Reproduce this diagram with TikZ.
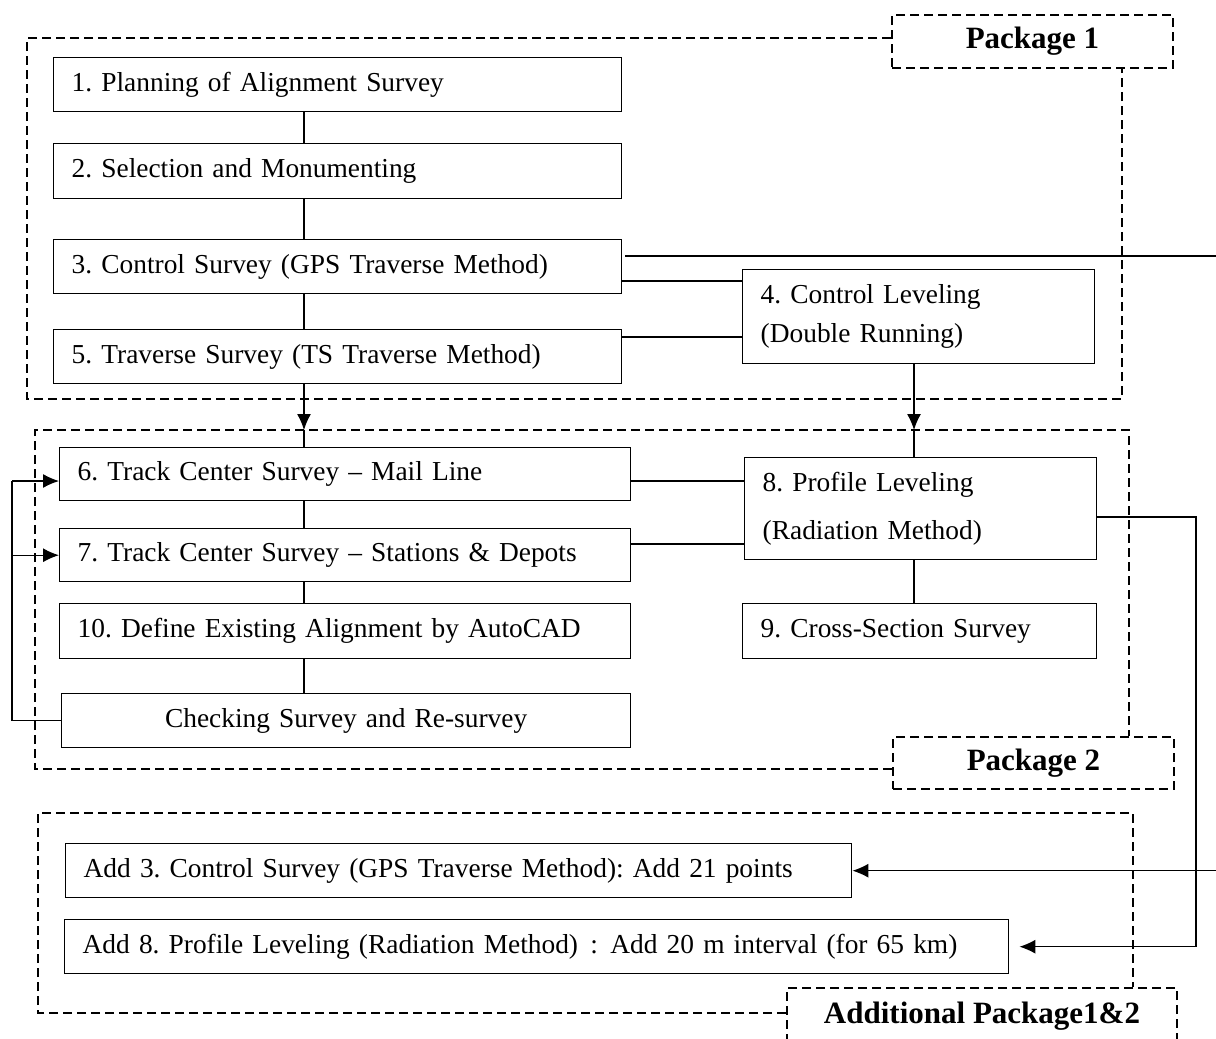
\documentclass[tikz,border=0pt]{standalone}
\usepackage{fontspec}
\setmainfont{Liberation Serif}
\frenchspacing
\usetikzlibrary{arrows.meta}

\tikzset{
  stepbox/.style={draw, line width=0.7pt, anchor=north west, inner xsep=9pt, inner ysep=0pt,
    minimum height=27pt, align=left, font=\fontsize{13.7}{20}\selectfont},
  pkgbox/.style={draw, dashed, line width=1pt, dash pattern=on 4.5pt off 2.5pt, inner sep=0pt,
    font=\fontsize{15.5}{18}\bfseries},
  pkgline/.style={line width=1pt, dash pattern=on 4.5pt off 2.5pt},
  link/.style={line width=0.6pt},
  >={Latex[length=8pt,width=7pt]}
}

\begin{document}
\begin{tikzpicture}[x=0.5pt,y=-0.5pt]
  \useasboundingbox (0,0) rectangle (1216,1039);
  \coordinate (spine) at (304,0);
  \coordinate (rspine) at (914,0);

  % package 1
  \node[stepbox, text width=266pt] (s1) at (53,57) {1. Planning of Alignment Survey};
  \node[stepbox, text width=266pt, minimum height=27.5pt] (s2) at (53,143) {2. Selection and Monumenting};
  \node[stepbox, text width=266pt] (s3) at (53,239) {3. Control Survey (GPS Traverse Method)};
  \node[stepbox, text width=266pt] (s5) at (53,329) {5. Traverse Survey (TS Traverse Method)};
  \node[stepbox, text width=158pt, minimum height=47pt, font=\fontsize{13.7}{19.5}\selectfont] (s4) at (742,269)
    {4. Control Leveling\\(Double Running)};

  % package 2
  \node[stepbox, text width=267.5pt, minimum height=26.5pt] (s6) at (59,447) {6. Track Center Survey -- Mail Line};
  \node[stepbox, text width=267.5pt, minimum height=26.5pt] (s7) at (59,528) {7. Track Center Survey -- Stations \& Depots};
  \node[stepbox, text width=267.5pt, minimum height=27.5pt] (s10) at (59,603) {10. Define Existing Alignment by AutoCAD};
  \node[stepbox, text width=266.5pt, align=center] (chk) at (61,693) {Checking Survey and Re-survey};
  \node[stepbox, text width=158pt, minimum height=51pt, font=\fontsize{13.7}{24}\selectfont] (s8) at (744,457)
    {8. Profile Leveling\\(Radiation Method)};
  \node[stepbox, text width=159pt, minimum height=27.5pt] (s9) at (742,603) {9. Cross-Section Survey};

  % additional package
  \node[stepbox, text width=375pt] (a3) at (65,843) {Add 3. Control Survey (GPS Traverse Method): Add 21 points};
  \node[stepbox, text width=454pt] (a8) at (64,919)
    {Add 8. Profile Leveling (Radiation Method)\hspace{0.45em}:\hspace{0.45em}Add 20 m interval (for 65 km)};

  % package frames
  \node[pkgbox, minimum width=140.5pt, minimum height=26.5pt] (pk1) at (1032.5,41.5) {Package 1};
  \node[pkgbox, minimum width=140.5pt, minimum height=26pt] (pk2) at (1033.5,763) {Package 2};
  \node[pkgbox, minimum width=195pt, minimum height=28pt] (pka) at (982,1016) {Additional Package1\&2};
  \draw[pkgline] (pk1.west |- 0,38) -| (27,399) -| (pk1.south -| 1122,0);
  \draw[pkgline] (pk2.west |- 0,769) -| (35,430) -| (pk2.north -| 1129,0);
  \draw[pkgline] (pka.west |- 0,1013) -| (38,813) -| (pka.north -| 1133,0);

  % links
  \draw[link] (s1.south -| spine) -- (s2.north -| spine);
  \draw[link] (s2.south -| spine) -- (s3.north -| spine);
  \draw[link] (s3.south -| spine) -- (s5.north -| spine);
  \draw[link] (s3.east |- 0,281) -- (s4.west |- 0,281);
  \draw[link] (s5.east |- 0,337) -- (s4.west |- 0,337);
  \draw[link,->] (s5.south -| spine) -- (spine |- 0,430);
  \draw[link] (spine |- 0,430) -- (s6.north -| spine);
  \draw[link,->] (s4.south -| rspine) -- (rspine |- 0,430);
  \draw[link] (rspine |- 0,430) -- (s8.north -| rspine);

  \draw[link] (s6.south -| spine) -- (s7.north -| spine);
  \draw[link] (s7.south -| spine) -- (s10.north -| spine);
  \draw[link] (s10.south -| spine) -- (chk.north -| spine);
  \draw[link] (s6.east |- 0,481) -- (s8.west |- 0,481);
  \draw[link] (s7.east |- 0,544) -- (s8.west |- 0,544);
  \draw[link] (s8.south -| rspine) -- (s9.north -| rspine);

  % check loop
  \coordinate (loopL) at (12,481);
  \draw[link] (chk.west) -| (loopL);
  \draw[link,->] (loopL) -- (s6.west |- loopL);
  \draw[link,->] (loopL |- s7.west) -- (s7.west);

  % to additional package
  \coordinate (gpsout) at (625,256);
  \coordinate (rloop) at (1196,517);
  \draw[link,->] (gpsout) -- (1224,256) |- (a3.east);
  \draw[link,->,shorten >=5pt] (s8.east |- rloop) -- (rloop) |- (a8.east);
\end{tikzpicture}
\end{document}
